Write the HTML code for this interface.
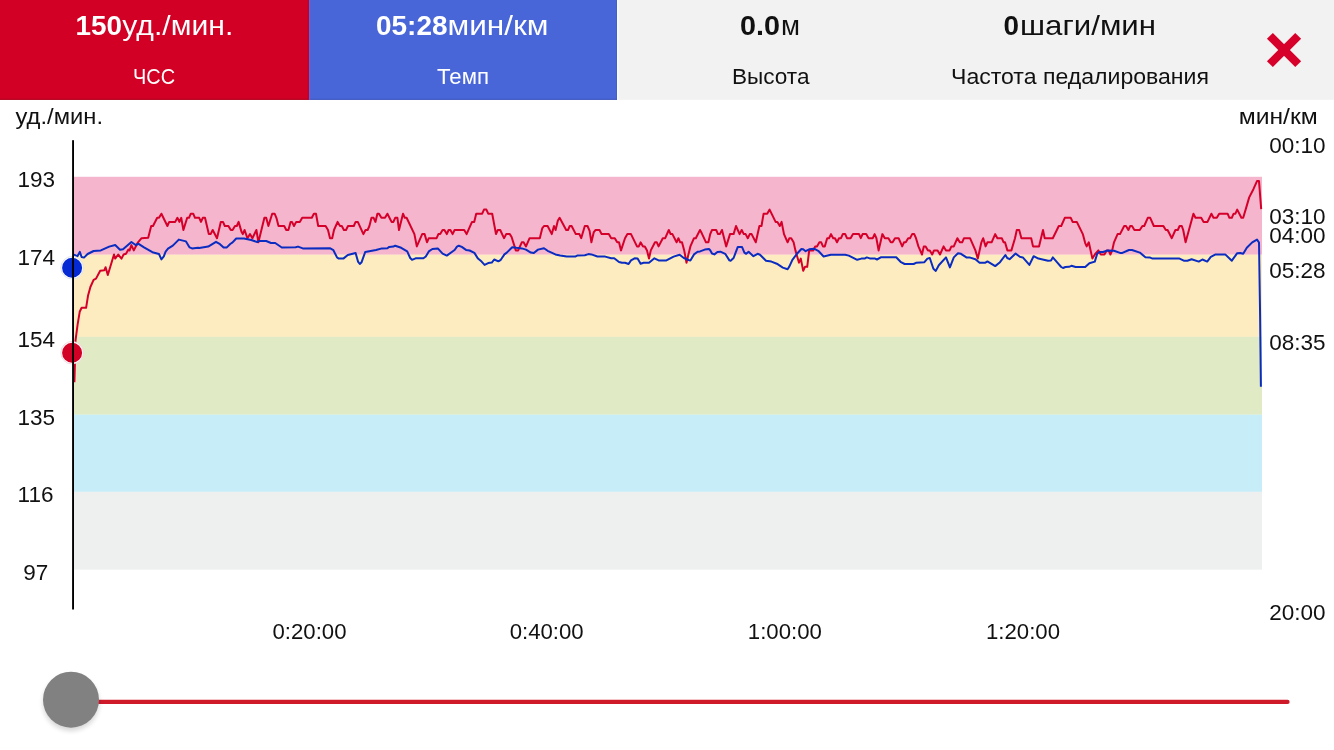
<!DOCTYPE html>
<html lang="ru">
<head>
<meta charset="utf-8">
<title>График тренировки</title>
<style>
html,body{margin:0;padding:0;background:#fff;}
body{width:1334px;height:750px;overflow:hidden;font-family:"Liberation Sans",sans-serif;}
svg{display:block;}
text{font-family:"Liberation Sans",sans-serif;}
.b{font-weight:bold;}
.w{fill:#fff;}
.k{fill:#111;}
.ax{font-size:22.5px;fill:#111;}
</style>
</head>
<body>
<svg width="1334" height="750" viewBox="0 0 1334 750">
  <!-- header panels -->
  <rect x="0" y="0" width="1334" height="99.8" fill="#f2f2f2"/>
  <rect x="0" y="0" width="309" height="99.8" fill="#d10024"/>
  <rect x="309" y="0" width="308" height="99.8" fill="#4966d9"/>
  <rect x="0" y="98.8" width="308.6" height="1" fill="#b0001f"/>
  <rect x="309" y="98.8" width="308" height="1" fill="#3f58bb"/>
  <rect x="616" y="0" width="1" height="99.8" fill="#3f58bb" opacity="0.6"/>
  <rect x="307.9" y="0" width="1.1" height="99.8" fill="#a00a4a" opacity="0.8"/>
  <rect x="617.1" y="0" width="1.2" height="99.8" fill="#fafbff"/>
  <rect x="309" y="0" width="1.2" height="99.8" fill="#8a58b8" opacity="0.85"/>

  <!-- header text -->
  <g id="hdr">
    <text x="75.5" y="35.4" font-size="28.5" class="w b" textLength="46.5" lengthAdjust="spacingAndGlyphs">150</text>
    <text x="122.3" y="35.4" font-size="27.5" class="w" textLength="111" lengthAdjust="spacingAndGlyphs">уд./мин.</text>
    <text x="133" y="83.9" font-size="21.5" class="w" textLength="42" lengthAdjust="spacingAndGlyphs">ЧСС</text>

    <text x="376" y="35.4" font-size="28.5" class="w b" textLength="71.5" lengthAdjust="spacingAndGlyphs">05:28</text>
    <text x="447.5" y="35.4" font-size="27.5" class="w" textLength="101" lengthAdjust="spacingAndGlyphs">мин/км</text>
    <text x="437" y="83.9" font-size="21.5" class="w" textLength="52" lengthAdjust="spacingAndGlyphs">Темп</text>

    <text x="740" y="35.4" font-size="28.5" class="k b" textLength="40" lengthAdjust="spacingAndGlyphs">0.0</text>
    <text x="781" y="35.4" font-size="27.5" class="k" textLength="19" lengthAdjust="spacingAndGlyphs">м</text>
    <text x="732" y="83.9" font-size="21.5" class="k" textLength="77.5" lengthAdjust="spacingAndGlyphs">Высота</text>

    <text x="1003.5" y="35.4" font-size="28.5" class="k b" textLength="15.5" lengthAdjust="spacingAndGlyphs">0</text>
    <text x="1020" y="35.4" font-size="27.5" class="k" textLength="136" lengthAdjust="spacingAndGlyphs">шаги/мин</text>
    <text x="951" y="83.9" font-size="21.5" class="k" textLength="258" lengthAdjust="spacingAndGlyphs">Частота педалирования</text>
  </g>

  <!-- close icon -->
  <g stroke="#d6002a" stroke-width="8.35" fill="none">
    <line x1="1269.9" y1="35.85" x2="1298.2" y2="64.15"/>
    <line x1="1298.2" y1="35.85" x2="1269.9" y2="64.15"/>
  </g>

  <!-- zone bands -->
  <g id="bands">
    <rect x="74" y="176.8" width="1188" height="78" fill="#f5b5cd"/>
    <rect x="74" y="254.7" width="1188" height="82.2" fill="#fdecc0"/>
    <rect x="74" y="336.8" width="1188" height="78" fill="#e0ebc5"/>
    <rect x="74" y="414.7" width="1188" height="77.2" fill="#c6edf8"/>
    <rect x="74" y="491.8" width="1188" height="77.9" fill="#eef0ef"/>
  </g>

  <!-- left axis labels -->
  <g class="ax">
    <text x="15.5" y="123.8" textLength="87.5" lengthAdjust="spacingAndGlyphs">уд./мин.</text>
    <text x="17.6" y="186.7">193</text>
    <text x="17.6" y="264.8">174</text>
    <text x="17.6" y="346.5">154</text>
    <text x="17.6" y="424.6">135</text>
    <text x="17.6" y="501.6">116</text>
    <text x="23.2" y="579.7">97</text>
  </g>

  <!-- right axis labels -->
  <g class="ax">
    <text x="1238.7" y="123.7" textLength="79" lengthAdjust="spacingAndGlyphs">мин/км</text>
    <text x="1269.2" y="153.3">00:10</text>
    <text x="1269.2" y="223.7">03:10</text>
    <text x="1269.2" y="243.2">04:00</text>
    <text x="1269.2" y="277.5">05:28</text>
    <text x="1269.2" y="350.4">08:35</text>
    <text x="1269.2" y="619.8">20:00</text>
  </g>

  <!-- time axis labels -->
  <g class="ax" style="font-size:22.2px">
    <text x="272.5" y="639.3">0:20:00</text>
    <text x="509.7" y="639.3">0:40:00</text>
    <text x="747.8" y="639.3">1:00:00</text>
    <text x="986" y="639.3">1:20:00</text>
  </g>

  <!-- series -->
  <polyline id="hr" fill="none" stroke="#d4002a" stroke-width="2" stroke-linejoin="round" points="74.4,382.2 74.9,364.6 75.5,340.6 77.6,324.6 79.7,311.8 81.6,307.8 86.1,307.8 88,295.8 90.4,287 93.6,279.8 96,278.6 100.2,270.8 104.4,270.2 105.6,267.2 107.8,275 114,254.5 115.2,258.6 118.2,254.5 121.5,258.6 123.6,254.5 126,253.7 128.4,249.6 129.6,250.4 131.4,245.1 133.8,250.4 138,242.3 141.6,238.2 148.2,237.8 151.2,226 153,226 157.2,217.8 159,217.8 161.4,213.7 167.4,226 169.2,221.9 175.2,221.9 177.4,217.8 179.4,221.9 181.2,217.8 183.4,230 187.2,217.8 189,217.8 190.8,213.7 193.2,213.7 195,217.8 199.2,217.8 201,221.9 202.8,217.8 205,217.8 208.8,234.1 210.6,234.1 212.7,230 217,238.2 220.8,221.9 223,221.9 224.8,226 228.4,226 230.8,230 232.6,230 235,226 236.8,226 238.6,221.9 241.6,232.1 242.8,234.1 244.6,230 247.4,238.2 250,234.1 252.4,238.2 256.4,230 258.4,242.3 264.4,217.8 266.2,217.8 268.4,226 272.2,213.7 274.6,213.7 276.4,217.8 278.5,226 284.2,226 286.3,230 288.4,230 290.6,221.9 292,221.9 294,226 296.2,221.9 299.8,221.9 302.2,217.8 311.8,217.8 313.9,213.7 316,213.7 318.2,226 325.6,226 328,230 330,238.2 332.2,238.2 334,230 337.6,221.9 340,226 341.8,226 343.9,230 346,230 348,226 353.8,226 355.6,221.9 357.8,221.9 363.4,234.1 365.5,230 367.6,230 369.4,226 371.5,217.8 373.6,217.8 375.4,221.9 377.4,213.7 379,213.7 381.4,217.8 385,217.8 387.4,213.7 391.6,221.9 393.4,221.9 395.2,217.8 397.4,217.8 399,230 403,213.7 404.8,217.8 406.6,217.8 414.4,234.1 416.8,246.4 422.2,234.1 424.6,234.1 427,242.3 428.8,238.2 436.6,238.2 438.4,234.1 440.2,234.1 442.6,230 444.4,230 446.8,234.1 448.6,230 450.4,230 452.6,234.1 454.6,230 464.2,230 466.6,234.1 472,221.9 474.2,221.9 476.2,213.7 482.2,213.7 484,209.6 486.4,209.6 488.2,213.7 492.2,213.7 496,234.1 497.8,230 500.2,230 504,238.2 506.2,234.1 509.8,234.1 511.6,237 515.8,250.4 518.2,250.4 521.8,242.3 523.6,242.3 526,246.4 529.6,238.2 539.8,238.2 542.2,228.4 544,226 547.6,226 551.8,234.1 554,226 555.6,230 557.8,220.7 559.6,217.8 566.2,230 568,230 569.8,226 571.6,226 575.8,234.1 579.4,234.1 581.2,238.2 584.8,226 587.5,226 589.6,230.9 591.4,242.3 593.8,232.1 595.6,230 599.5,230 601.6,234.1 608.8,234.1 611.2,238.2 614.8,238.2 617.2,242.3 619,242.3 621,250.4 625,238.2 627.4,234.1 631,234.1 637,246.4 638.8,246.4 640.6,242.3 643,246.4 644.8,246.4 647,250.4 649,258.6 650.8,250.4 655,242.3 656.8,242.3 658.6,246.4 662.8,238.2 665.2,238.2 668.8,230 670.6,234.1 672.4,234.1 676.6,242.3 678.4,238.2 680.2,242.3 682,242.3 684.2,250.4 686.5,262.7 688,256.2 690.4,246.4 694,238.2 695.8,238.2 700,230 701.8,233.3 706,242.3 708.4,242.3 710.2,234.1 712,230 716.2,230 718,234.1 719.8,234.1 722,230 726.2,246.4 730,234.1 733.6,234.1 736,226 739.6,234.1 741.7,230 743.8,234.1 745.6,234.1 747.8,238.2 749.8,234.1 751.6,234.1 755.8,242.3 759.4,226 761.5,226 763.6,213.7 767.2,213.7 769.6,209.6 775.6,221.9 777.4,221.9 779.8,226 781.6,221.9 784,234.1 787.6,242.3 789.4,238.2 791.2,238.2 793.6,242.3 795.4,250.4 799,262.7 800.8,258.6 803.2,270.8 805,266.8 807.2,266.8 809.2,250.4 813.4,250.4 815.2,246.4 817,246.4 819.4,242.3 821.2,242.3 823,246.4 824.8,246.4 827.2,238.2 829,238.2 831,234.1 833.2,238.2 835,238.2 837,242.3 839,238.2 841,238.2 842.8,234.1 845.2,234.1 847,238.2 850.6,238.2 853,234.1 859,234.1 860.8,238.2 862.6,234.1 866.2,234.1 868.6,238.2 872.8,238.2 874.6,234.1 876.4,238.2 878.6,250.4 882.4,234.1 884.8,238.2 888.4,238.2 890.8,242.3 892.6,242.3 895,238.2 898.6,238.2 902.2,246.4 904,242.3 905.8,242.3 908.2,238.2 910,238.2 912.2,234.1 914.2,234.1 916,238.2 918.4,246.4 922,254.5 923.8,246.4 925.6,246.4 928,250.4 929.8,250.4 932.2,254.5 934,250.4 937.6,250.4 940,254.5 943.6,246.4 946,250.4 949.6,250.4 951.4,246.4 953.8,246.4 957.4,238.2 959.8,242.3 962.2,242.3 964,238.2 970,238.2 975.4,250.4 977.8,258.6 981.4,242.3 983.2,238.2 985.6,246.4 987.4,242.3 991.6,242.3 995.2,234.1 997.4,238.2 1001.8,238.2 1003.6,242.3 1005,242.3 1007.4,250.4 1011.4,250.4 1015,238.2 1016.8,230 1019.2,230 1021.4,238.2 1031.2,238.2 1033,246.4 1039,246.4 1043,230 1044.7,238.2 1052.8,238.2 1058.8,226 1061.2,226 1064.8,217.8 1070.8,217.8 1072.6,221.9 1076.8,221.9 1082.8,234.1 1085.2,243.1 1086.7,246.4 1088.8,242.3 1092.4,258.6 1094.8,254.5 1098.4,250.4 1100.8,254.5 1104.4,254.5 1106.8,250.4 1108.6,250.4 1110.4,254.5 1112.2,250.4 1114,242.3 1117.6,234.1 1120,234.1 1124.2,226 1126,226 1128.4,230 1130.2,226 1132,226 1134.4,230 1139.8,230 1142.4,226 1144.2,226 1147.8,217.8 1150.2,217.8 1153.8,226 1163.4,226 1165.8,230 1167.6,230 1171.8,238.2 1175.4,230 1177.8,230 1179.6,226 1181.8,226 1183.2,230 1185.6,242.3 1193.4,213.7 1195.5,217.8 1201.2,217.8 1203.6,221.9 1207.5,221.9 1211.4,213.7 1213.5,217.8 1216.8,217.8 1219.2,213.7 1227.6,213.7 1229.4,217.8 1231.8,217.8 1233.6,213.7 1235.4,213.7 1237.2,209.6 1241.4,217.8 1243.2,217.8 1246.8,205.6 1249.2,197.4 1253.4,189.2 1257,181.1 1259,181.1 1261.2,209.2"/>
  <polyline id="pace" fill="none" stroke="#0a2cc0" stroke-width="2" stroke-linejoin="round" points="73.9,254.6 77.4,256.2 79.8,251.9 81.6,257 84,257.6 87.6,254 93.6,251 100.8,250.4 109.2,246.6 115.2,245 120,249.8 123,249.2 131.4,242 135.6,245 138.6,243.8 144,247.4 152.4,252.2 159,254 161.4,259.4 163.8,256.4 165.6,251.6 168,248.6 172.8,245.6 178.8,239.6 186,241.4 189.6,247.4 192,248.4 198,247.7 199.2,248 208.2,246.6 216,241.8 220,244.2 223.6,247.6 226.6,247.6 230.2,244 232.6,242.4 236.2,238.5 244,238.5 251.2,240 257.2,242 259.6,240.9 266.2,241 271,243 275.2,243 281.8,247.5 295.6,247.2 298,246.6 302.8,248.4 329.8,248.2 333.4,250.2 337,257.4 338.8,258.6 343.6,258.4 347.8,255 355.6,253 358,261.6 359.8,264 361.6,262.2 365.2,252 376,250 382,248.4 387.4,248.2 389.2,246.9 393.4,246.6 395.2,245.7 401.2,247.8 407.2,251.4 410.2,258 412,259.8 415.6,258.3 423.4,258.3 425.8,256.5 428.8,251.4 432.4,249 437.8,248.4 442.6,253.6 446.8,255.6 454.6,250 457,246.6 458.8,245.7 461.8,246.9 466,249.9 469.6,250.5 474.4,252.9 478,258.6 481.6,261.6 484.6,264.9 488.2,263.1 491.8,262.6 494.2,259.5 498.4,261.3 500.8,259.8 504.4,254.4 506.8,252.6 512.2,247.2 516.4,247.8 521.8,248.4 526,249.6 530.8,252.6 533.8,253 538,249.6 544,248.2 547.6,250.8 555.4,254.4 560.2,255.4 566.8,256.6 575.2,256.6 577.6,255.4 584.8,255.3 588.4,254.1 591.4,254.4 597.4,256.5 605.2,256.6 611.2,258.3 614.2,258.3 619,262 622,262.8 625,262.8 628.6,264 631,260.4 634.6,258.3 637.6,258.6 640.6,263.7 643.6,262.8 649,262.8 654.4,258.3 658.6,260.4 666.4,260.4 673.6,256.6 679.6,254.7 683.8,258 689.2,260.2 690.4,260.4 694,254.4 697.6,251.7 700,251.4 704.8,249.6 709,249 710.2,250.2 712,253.5 714.4,254.4 717.4,252 720.4,251.7 725.2,253.8 729.4,260.4 730.6,260.8 733.6,258 737.8,246.9 742,246.9 744.4,252.6 746.2,253.8 748.6,251.7 753.4,256.2 757.6,253.8 760,254.7 766,260.8 771.4,261.6 776.8,263.7 782.8,267.6 787.6,269.2 789.4,266.4 792.4,259.8 797.2,253.5 801.4,249 803.2,249.3 805.6,251.2 809.2,249.3 814,248.7 818.2,250.8 823.6,256.5 830.8,254.7 845.2,254.7 848.8,255.6 857.2,259.8 861.4,258.6 865,258.4 866.8,257.4 869.8,258.4 874.6,258.4 877,259.5 881.2,257.2 896.2,257.2 901,262.2 904.6,264 913.6,264 916,262.8 924.4,262.2 927.4,258.6 929.8,258 933.4,268.8 935.8,270.9 938.8,265.2 946,257.4 949.9,267.4 953.8,257.4 958,253.2 961,253.8 966.4,257.4 969.4,257.4 975.4,259.2 979.6,262.8 985,262.8 987.4,261.4 995.2,266.1 1000,262.2 1005.4,255 1007.2,258 1009.6,259.2 1015.6,253.5 1019.8,256.8 1022.8,257.4 1029.4,264.9 1033.6,256.2 1038.4,258.6 1048,260.7 1051,260.4 1052.8,257.4 1057.6,262.8 1061.2,267 1063,268 1065.4,267 1069,266.8 1071.4,265.8 1075.6,267 1085.2,267 1089.4,263.2 1094.8,261.6 1097.2,253.8 1099.6,252 1103.2,252 1106.8,250.6 1114,250.8 1120,252.9 1122.4,252.9 1129,250 1132,250 1139.8,252.6 1145.4,257.2 1149.6,257.4 1152.6,258.6 1179,258.4 1183.8,260.7 1187.4,260.7 1191.6,259.2 1198.8,261.6 1202.4,259.5 1207.2,261.6 1210.8,256.8 1215.6,254.4 1225.2,254.4 1231.8,260.7 1237.2,253.2 1240.2,253 1243.2,253.8 1246.8,247.8 1252.2,242.4 1257,239.6 1259,242.5 1260.1,315 1260.9,386.8"/>

  <!-- cursor dots -->
  <circle cx="72.1" cy="267.7" r="11.3" fill="#fff" stroke="#d3d8ea" stroke-width="0.7"/>
  <circle cx="72.1" cy="267.7" r="10" fill="#0529d3"/>
  <circle cx="72.1" cy="352.7" r="11.3" fill="#fff" stroke="#ecc9d1" stroke-width="0.7"/>
  <circle cx="72.1" cy="352.7" r="10" fill="#d10024"/>

  <!-- axis -->
  <rect x="72.1" y="140.2" width="1.9" height="469.3" fill="#000"/>

  <!-- slider -->
  <defs>
    <filter id="sh" x="-30%" y="-30%" width="160%" height="170%">
      <feGaussianBlur stdDeviation="2.6"/>
    </filter>
  </defs>
  <line x1="99" y1="701.9" x2="1287.5" y2="701.9" stroke="#cf1a2a" stroke-width="4.3" stroke-linecap="round"/>
  <circle cx="71" cy="703" r="28" fill="#000" opacity="0.16" filter="url(#sh)"/>
  <circle cx="71" cy="699.7" r="28" fill="#818181"/>
</svg>
</body>
</html>
